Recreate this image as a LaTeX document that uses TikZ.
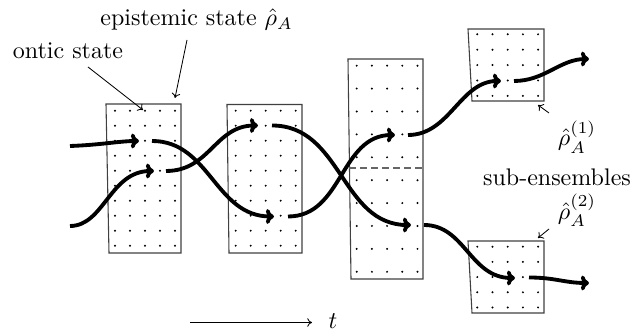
\documentclass[tikz,border=0pt]{standalone}
\usetikzlibrary{arrows.meta}
\begin{document}
\begin{tikzpicture}[x=0.4167pt,y=-0.4167pt,
  boxline/.style={draw=black!75,line width=0.45pt},
  traj/.style={line width=1.6pt},
  trajarrow/.style={traj,-{To[length=3.4pt,width=6.2pt]}},
  pointer/.style={line width=0.35pt,-{To[length=2pt,width=3.6pt]}},
  sep/.style={draw=black!60,line width=0.45pt,dash pattern=on 3pt off 1.6pt}
]
\useasboundingbox (0,0) rectangle (639,331);
% boxes
\draw[boxline] (106,104) -- (181,104) -- (181,253) -- (109,253) -- cycle;
\foreach \i in {0,...,4} \foreach \j in {0,...,9} \fill (115+15*\i,110.7+15*\j) circle (1.1);
\draw[boxline] (227,104.5) -- (302,104.5) -- (302,253) -- (229,253) -- cycle;
\foreach \i in {0,...,4} \foreach \j in {0,...,9} \fill (235.7+15*\i,110.7+15*\j) circle (1.1);
\draw[boxline] (348,59) -- (423,59) -- (423,279) -- (351,279) -- cycle;
\foreach \i in {0,...,4} \foreach \j in {0,...,9} \fill (356.7+15.2*\i,65.7+22.9*\j) circle (1.1);
\draw[sep] (349,168) -- (423,168);
\draw[boxline] (468,29) -- (544,29) -- (544,101) -- (472,101) -- cycle;
\foreach \i in {0,...,4} \foreach \j in {0,...,4} \fill (477.3+15.2*\i,34.3+15.4*\j) circle (1.1);
\draw[boxline] (468,241) -- (544,241) -- (544,313) -- (472,313) -- cycle;
\foreach \i in {0,...,4} \foreach \j in {0,...,4} \fill (477.3+15.2*\i,246.7+15.2*\j) circle (1.1);
% trajectory points
\coordinate (a0) at (70,146);
\coordinate (a1) at (139,141);
\coordinate (a1o) at (152,141);
\coordinate (b0) at (70,226);
\coordinate (b1) at (154,171);
\coordinate (b1o) at (166,171);
\coordinate (c1) at (258,125.5);
\coordinate (c1o) at (272,125.5);
\coordinate (d1) at (274,216.5);
\coordinate (d1o) at (288,216.5);
\coordinate (e1) at (395,135);
\coordinate (e1o) at (408,135);
\coordinate (f1) at (411,225);
\coordinate (f1o) at (424,225);
\coordinate (g1) at (501,81);
\coordinate (g1o) at (514,81);
\coordinate (g2) at (589,59);
\coordinate (h1) at (515,278);
\coordinate (h1o) at (529,277.5);
\coordinate (h2) at (589,283);
% trajectories
\draw[trajarrow] (a0) .. controls (100,145) and (120,141) .. (a1);
\draw[trajarrow] (b0) .. controls (104,226) and (110,171) .. (b1);
\draw[trajarrow] (a1o) .. controls (210,141) and (215,216.5) .. (d1);
\draw[trajarrow] (b1o) .. controls (210,171) and (215,125.5) .. (c1);
\draw[trajarrow] (c1o) .. controls (342,125.5) and (341,225) .. (f1);
\draw[trajarrow] (d1o) .. controls (343,216.5) and (340,135) .. (e1);
\draw[trajarrow] (e1o) .. controls (450,135) and (460,81) .. (g1);
\draw[trajarrow] (g1o) .. controls (545,81) and (560,59) .. (g2);
\draw[trajarrow] (f1o) .. controls (465,225) and (470,278) .. (h1);
\draw[trajarrow] (h1o) .. controls (555,277.5) and (565,283) .. (h2);
% labels
\node (ontic) at (68,51) {ontic state};
\node[anchor=west] (epi) at (92,20) {epistemic state $\hat\rho_A$};
\coordinate (onticdot) at (143,110);
\coordinate (epicorner) at (175,98);
\draw[pointer] (88,67) -- (onticdot);
\draw[pointer] (187,40) -- (epicorner);
\node (r1) at (577,137) {$\hat\rho_A^{(1)}$};
\node (sub) at (557,177) {sub-ensembles};
\node (r2) at (577,210) {$\hat\rho_A^{(2)}$};
\coordinate (c4) at (538,105);
\coordinate (c5) at (538,238);
\draw[pointer] (549,113) -- (c4);
\draw[pointer] (549,229) -- (c5);
\coordinate (t0) at (190,322.5);
\coordinate (t1) at (312,322.5);
\node (t) at (333,321) {$t$};
\draw[pointer] (t0) -- (t1);
\end{tikzpicture}
\end{document}
